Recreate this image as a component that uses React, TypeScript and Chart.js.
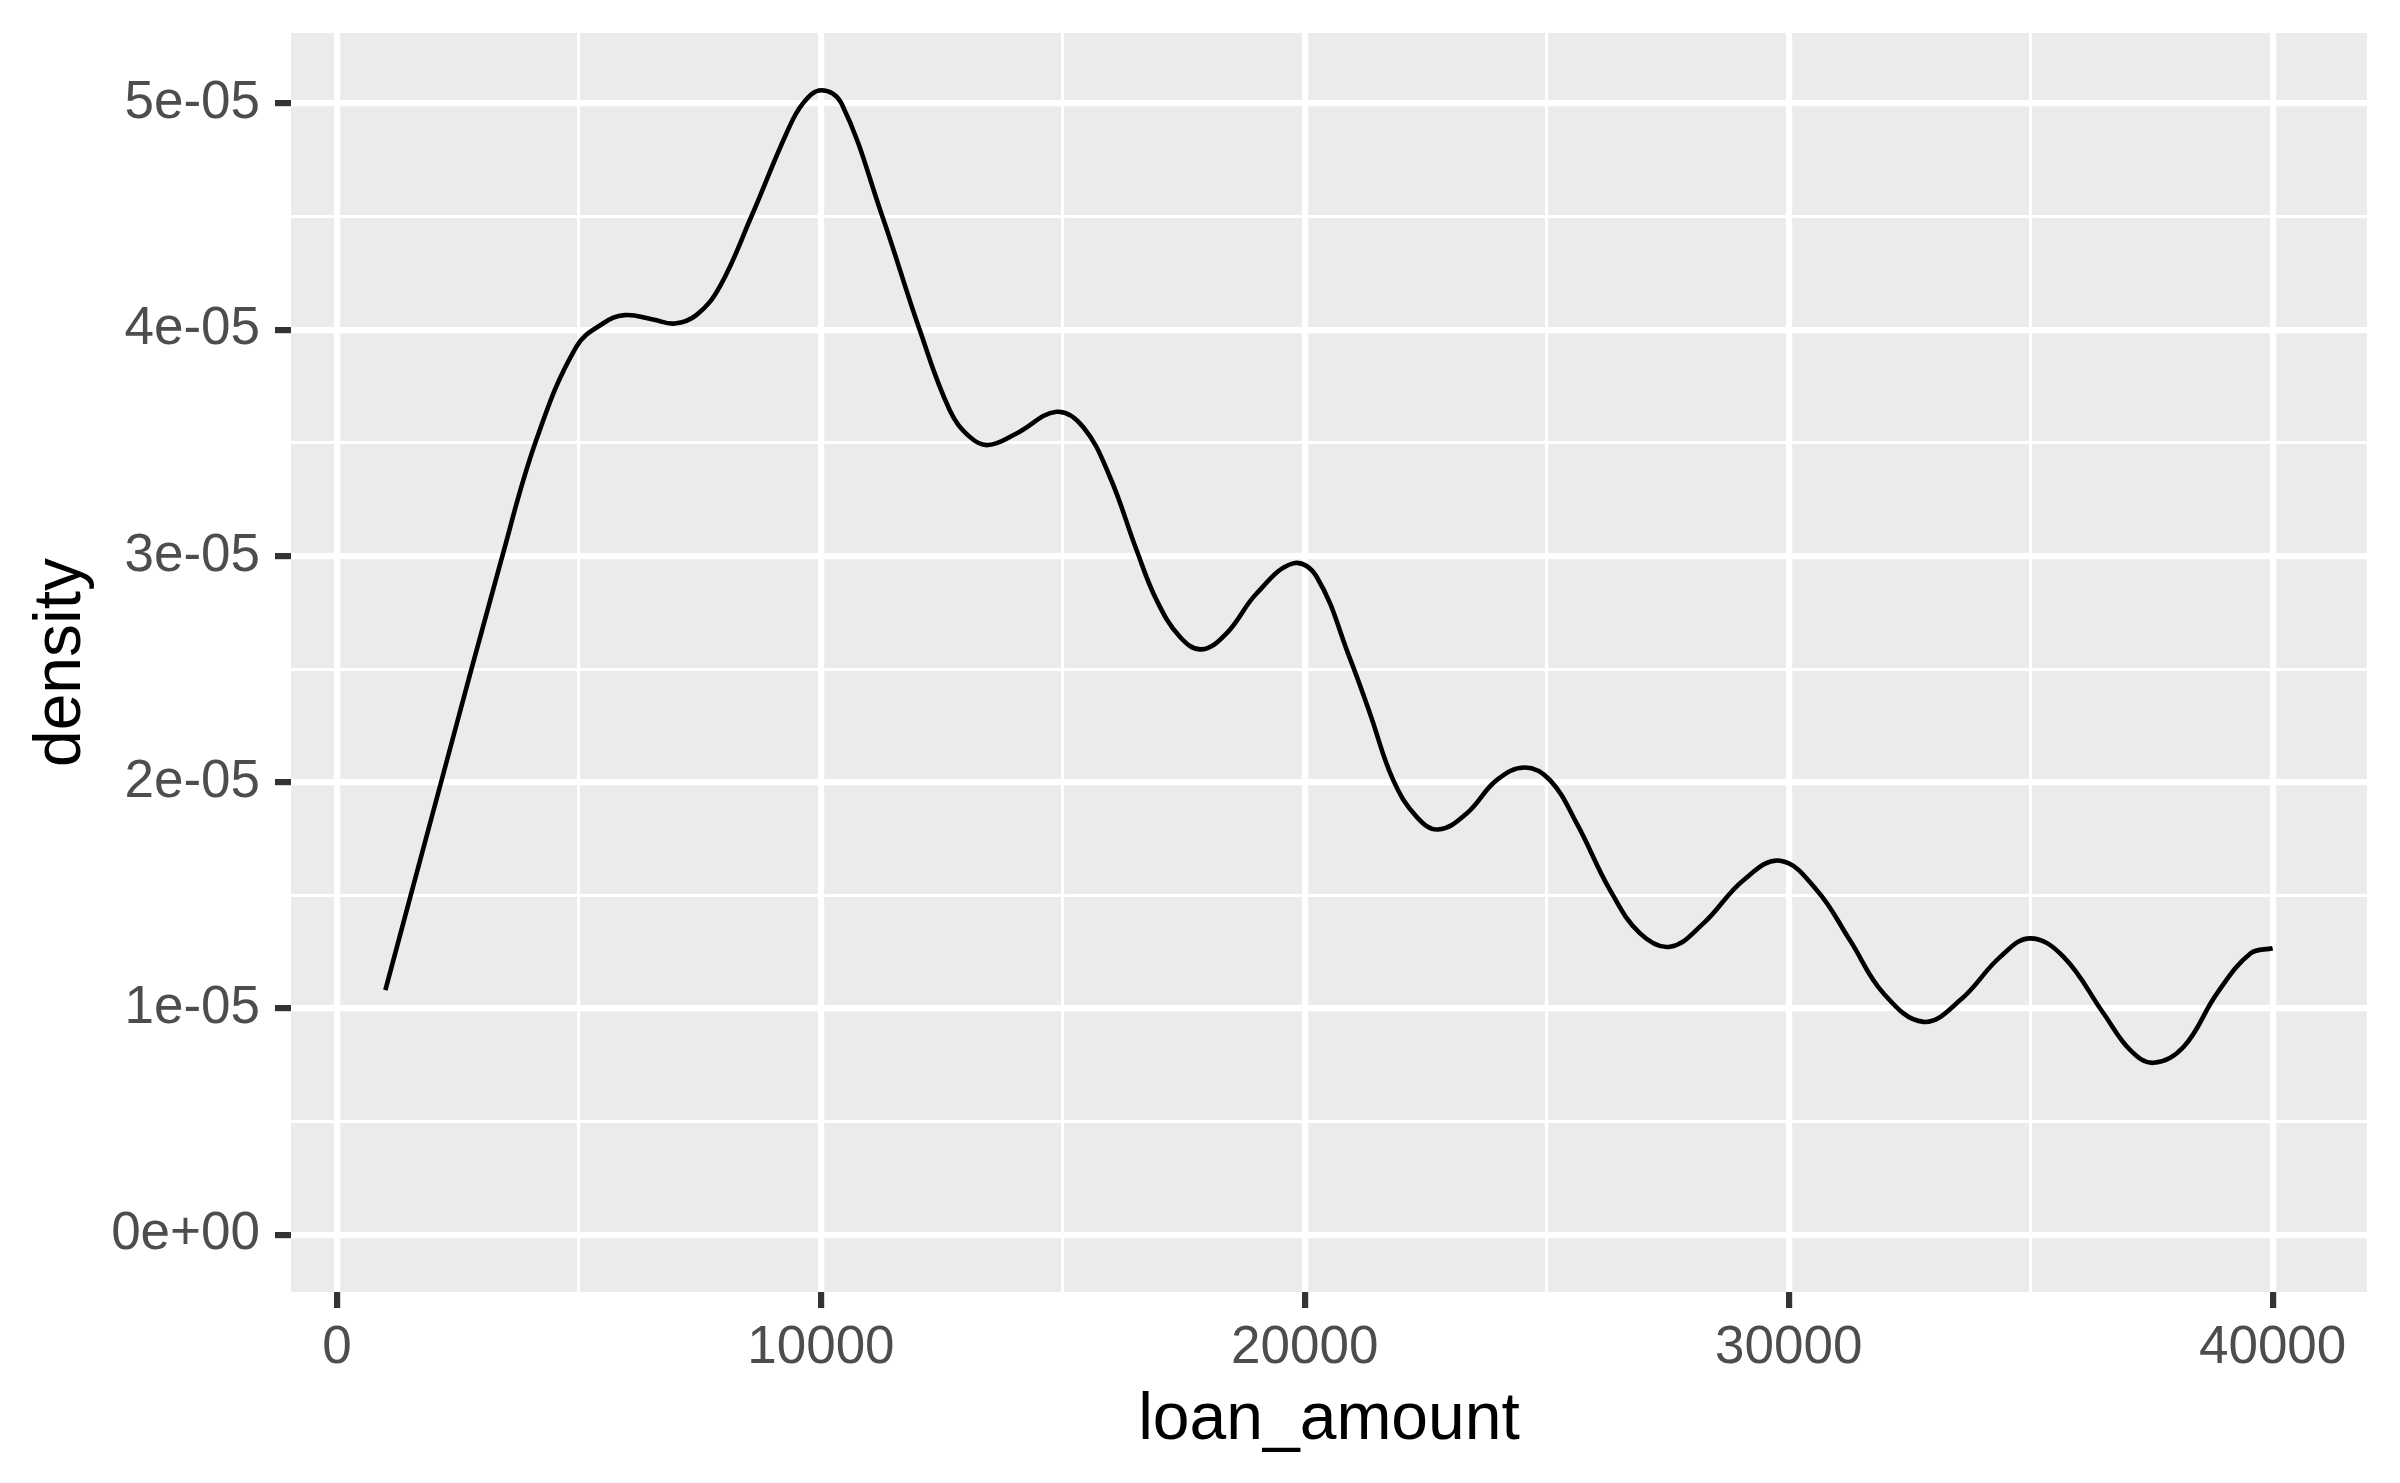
import React, { useEffect, useRef } from 'react';
import { Chart, registerables } from 'chart.js';

Chart.register(...registerables);

// ---- data ----
const loanAmount = [
  1000, 2154, 3394, 4118, 4945, 5496, 5944, 6529, 6977, 7426, 7908, 8563, 9287, 9629,
  10010, 10424, 11271, 12043, 12663, 13077, 13455, 14042, 14869, 15419, 15971, 16523,
  16936, 17418, 17866, 18383, 19003, 19760, 20244, 20932, 21346, 21828, 22311, 22758, 23345, 23965,
  24550, 25067, 25619, 26308, 26928, 27548, 28237, 29064, 29822, 30581, 31269, 31958, 32785, 33544,
  34371, 34991, 35680, 36507, 37059, 37541, 38162, 38851, 39540, 40000,
];

const density = [
  1.081e-5, 2.002e-5, 2.981e-5, 3.512e-5, 3.924e-5, 4.027e-5, 4.064e-5, 4.045e-5,
  4.027e-5, 4.064e-5, 4.189e-5, 4.5e-5, 4.867e-5, 5.0e-5, 5.058e-5, 5.0e-5, 4.5e-5,
  3.998e-5, 3.644e-5, 3.526e-5, 3.49e-5, 3.541e-5, 3.637e-5, 3.57e-5, 3.35e-5, 3.026e-5,
  2.805e-5, 2.643e-5, 2.587e-5, 2.658e-5, 2.834e-5, 2.967e-5, 2.908e-5, 2.547e-5, 2.304e-5, 2.009e-5,
  1.847e-5, 1.791e-5, 1.862e-5, 2.009e-5, 2.065e-5, 2.009e-5, 1.818e-5, 1.523e-5, 1.332e-5, 1.273e-5,
  1.376e-5, 1.567e-5, 1.653e-5, 1.523e-5, 1.3e-5, 1.067e-5, 0.941e-5, 1.037e-5, 1.228e-5, 1.31e-5,
  1.228e-5, 0.978e-5, 0.816e-5, 0.76e-5, 0.831e-5, 1.067e-5, 1.243e-5, 1.266e-5,
];

const xTickValues = [0, 5000, 10000, 15000, 20000, 25000, 30000, 35000, 40000];
const xTickLabels = ['0', '', '10000', '', '20000', '', '30000', '', '40000'];

const yTickValues = [0, 0.5e-5, 1e-5, 1.5e-5, 2e-5, 2.5e-5, 3e-5, 3.5e-5, 4e-5, 4.5e-5, 5e-5];
const yTickLabels = ['0e+00', '', '1e-05', '', '2e-05', '', '3e-05', '', '4e-05', '', '5e-05'];

const xTitle = 'loan_amount';
const yTitle = 'density';

// ---- styling ----
const W = 2400;
const H = 1483;
const FONT = "'Liberation Sans', Arial, Helvetica, sans-serif";
const PANEL_BG = '#EBEBEB';
const MAJOR_W = 6.2;
const MINOR_W = 3.1;

const panelBackground = {
  id: 'panelBackground',
  beforeDraw(chart: any) {
    const { ctx, chartArea: a } = chart;
    ctx.save();
    ctx.fillStyle = '#FFFFFF';
    ctx.fillRect(0, 0, chart.width, chart.height);
    ctx.fillStyle = PANEL_BG;
    ctx.fillRect(a.left, a.top, a.right - a.left, a.bottom - a.top);
    ctx.restore();
  },
};

function expand(lo: number, hi: number) {
  const r = hi - lo;
  return [lo - 0.05 * r, hi + 0.05 * r];
}

export default function App() {
  const ref = useRef<HTMLCanvasElement | null>(null);

  useEffect(() => {
    if (!ref.current) return;
    const [xMin, xMax] = expand(Math.min(...loanAmount), Math.max(...loanAmount));
    const [yMin, yMax] = expand(0, Math.max(...density));
    const points = loanAmount.map((x, i) => ({ x, y: density[i] }));

    const chart = new Chart(ref.current, {
      type: 'line',
      data: {
        datasets: [
          {
            data: points,
            borderColor: '#000000',
            borderWidth: 4.6,
            pointRadius: 0,
            fill: false,
            tension: 0.4,
          },
        ],
      },
      options: {
        responsive: false,
        animation: false,
        devicePixelRatio: 1,
        parsing: false as any,
        layout: { padding: { left: 0, top: 33, right: 33, bottom: 0 } },
        plugins: { legend: { display: false }, tooltip: { enabled: false } },
        scales: {
          x: {
            type: 'linear',
            min: xMin,
            max: xMax,
            afterBuildTicks: (s: any) => {
              s.ticks = xTickValues.map((v) => ({ value: v }));
            },
            afterFit: (s: any) => {
              s.height = 191;
              s.paddingLeft = 0;
              s.paddingRight = 0;
              s.paddingTop = 0;
              s.paddingBottom = 0;
            },
            ticks: {
              autoSkip: false,
              maxRotation: 0,
              minRotation: 0,
              padding: 9,
              color: '#4D4D4D',
              font: { family: FONT, size: 53 },
              callback: (_v: any, i: number) => xTickLabels[i],
            },
            grid: {
              color: '#FFFFFF',
              lineWidth: (c: any) => (xTickLabels[c.index] ? MAJOR_W : MINOR_W),
              drawTicks: true,
              tickLength: 16,
              tickWidth: (c: any) => (xTickLabels[c.index] ? MAJOR_W : 0),
              tickColor: (c: any) => (xTickLabels[c.index] ? '#333333' : 'rgba(0,0,0,0)'),
            },
            border: { display: false },
            title: {
              display: true,
              text: xTitle,
              color: '#000000',
              font: { family: FONT, size: 66 },
              padding: { top: 0, bottom: 23 },
            },
          },
          y: {
            type: 'linear',
            min: yMin,
            max: yMax,
            afterBuildTicks: (s: any) => {
              s.ticks = yTickValues.map((v) => ({ value: v }));
            },
            afterFit: (s: any) => {
              s.width = 291;
              s.paddingLeft = 0;
              s.paddingRight = 0;
              s.paddingTop = 0;
              s.paddingBottom = 0;
            },
            ticks: {
              autoSkip: false,
              padding: 15,
              color: '#4D4D4D',
              font: { family: FONT, size: 53 },
              callback: (_v: any, i: number) => yTickLabels[i],
            },
            grid: {
              color: '#FFFFFF',
              lineWidth: (c: any) => (yTickLabels[c.index] ? MAJOR_W : MINOR_W),
              drawTicks: true,
              tickLength: 16,
              tickWidth: (c: any) => (yTickLabels[c.index] ? MAJOR_W : 0),
              tickColor: (c: any) => (yTickLabels[c.index] ? '#333333' : 'rgba(0,0,0,0)'),
            },
            border: { display: false },
            title: {
              display: true,
              text: yTitle,
              color: '#000000',
              font: { family: FONT, size: 66 },
              padding: { top: 22.5, bottom: 0 },
            },
          },
        },
      } as any,
      plugins: [panelBackground],
    });

    return () => chart.destroy();
  }, []);

  return (
    <div style={{ position: 'absolute', left: 0, top: 0, width: W, height: H, background: '#FFFFFF' }}>
      <canvas ref={ref} width={W} height={H} style={{ display: 'block', width: W, height: H }} />
    </div>
  );
}
